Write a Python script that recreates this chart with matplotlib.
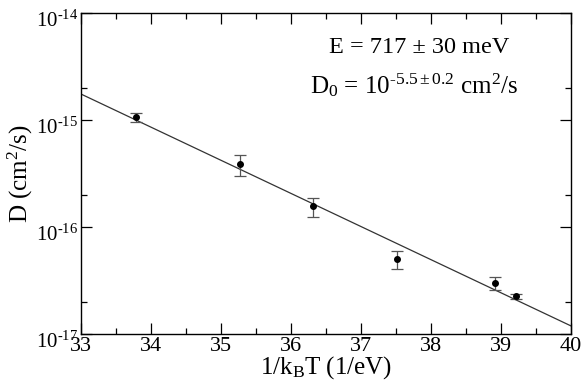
# Arrhenius plot of diffusion coefficient with fitted line
import numpy as np
import matplotlib.pyplot as plt
import matplotlib.transforms as mtransforms
from matplotlib.ticker import LogLocator, FuncFormatter, MultipleLocator, NullFormatter

plt.rcParams['font.family'] = ['Liberation Serif', 'DejaVu Serif']
plt.rcParams['mathtext.fontset'] = 'custom'
plt.rcParams['mathtext.rm'] = 'Liberation Serif'
plt.rcParams['mathtext.it'] = 'Liberation Serif:italic'

# ---------------------------------------
# Data
# ---------------------------------------
inv_kT = [33.79, 35.27, 36.31, 37.51, 38.91, 39.22]
D = [1.07e-15, 3.85e-16, 1.56e-16, 5.06e-17, 2.98e-17, 2.25e-17]
D_hi = [1.17e-15, 4.68e-16, 1.87e-16, 6.0e-17, 3.39e-17, 2.38e-17]
D_lo = [0.95e-15, 3.0e-16, 1.24e-16, 4.02e-17, 2.56e-17, 2.14e-17]

fit_x = [33, 40]
fit_D = [1.75e-15, 1.19e-17]

err_lo = np.array(D) - np.array(D_lo)
err_hi = np.array(D_hi) - np.array(D)


def pow10(v, pos):
    e = int(round(np.log10(v)))
    return r'10$^{\text{-}%d}$' % (-e)


# ---------------------------------------
# Plot
# ---------------------------------------
fig = plt.figure(figsize=(5.83, 3.86), dpi=100)
ax = fig.add_axes([0.139, 0.135, 0.840, 0.831])

ax.plot(fit_x, fit_D, color='#333333', lw=0.9)
ax.errorbar(inv_kT, D, yerr=[err_lo, err_hi], fmt='none', ecolor='#555555',
            elinewidth=0.9, capsize=4, capthick=0.9)
ax.plot(inv_kT, D, 'o', color='black', ms=4)

ax.set_yscale('log')
ax.set_xlim(33, 40)
ax.set_ylim(1e-17, 1e-14)

ax.xaxis.set_major_locator(MultipleLocator(1))
ax.xaxis.set_minor_locator(MultipleLocator(0.5))
ax.yaxis.set_major_locator(LogLocator(base=10, numticks=10))
ax.yaxis.set_major_formatter(FuncFormatter(pow10))
ax.yaxis.set_minor_locator(LogLocator(base=10, subs=[2.0], numticks=10))
ax.yaxis.set_minor_formatter(NullFormatter())

ax.tick_params(which='both', direction='in', top=True, right=True, width=0.9)
ax.tick_params(axis='x', labelsize=16, pad=2)
ax.tick_params(axis='y', labelsize=15, pad=2)
ax.tick_params(which='major', length=8)
ax.tick_params(which='minor', length=4.5)
for s in ax.spines.values():
    s.set_linewidth(1.0)

# xmgrace-like placement: the "10" sits a little below the tick
shift = mtransforms.ScaledTranslation(0, -4 / 72, fig.dpi_scale_trans)
for lab in ax.get_yticklabels():
    lab.set_transform(lab.get_transform() + shift)

ax.set_xlabel('1/k$_\\mathrm{B}$T (1/eV)', fontsize=18, labelpad=-1)
ax.set_ylabel('D (cm$^2$/s)', fontsize=18, labelpad=1)

ax.text(0.69, 0.894, 'E = 717 ± 30 meV', transform=ax.transAxes,
        fontsize=17.5, ha='center', va='center')
ax.text(0.681, 0.775, 'D$_0$ = 10$^{\\text{-}5.5\\pm0.2}$ cm$^2$/s', transform=ax.transAxes,
        fontsize=18, ha='center', va='center')

fig.savefig('out.png', dpi=100)
